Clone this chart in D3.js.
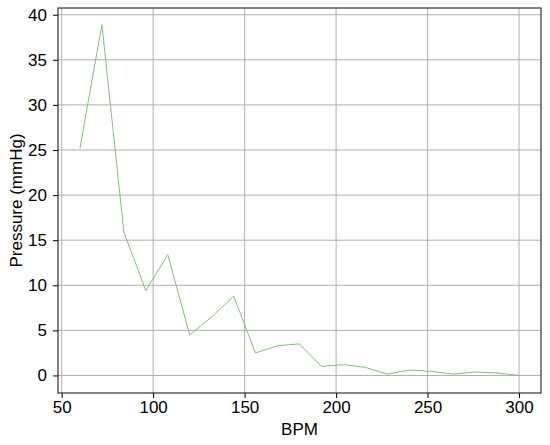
<!DOCTYPE html>
<html>
<head>
<meta charset="utf-8">
<script src="https://cdn.jsdelivr.net/npm/d3@7"></script>
<style>
  body { margin: 0; background: #fff; }
  svg text { font-family: "Liberation Sans", Arial, sans-serif; fill: #000; }
  .grid line { stroke: #b0b0b0; stroke-width: 1; }
  .axis path { display: none; }
  .axis line { stroke: #000; }
</style>
</head>
<body>
<svg width="550" height="445"></svg>
<script>
// BPM values along x
const bpm = [60, 72, 84, 96, 108, 120, 132, 144, 156, 168, 180, 192, 204, 216, 228, 240, 252, 264, 276, 288, 300]
// pressure
const pressure = [25.2, 38.9, 15.9, 9.4, 13.4, 4.5, 6.5, 8.8, 2.5, 3.3, 3.5, 1.0, 1.2, 0.9, 0.15, 0.6, 0.45, 0.15, 0.38, 0.27, 0]
const xTicks = [50, 100, 150, 200, 250, 300]
const yTicks = [0, 5, 10, 15, 20, 25, 30, 35, 40]

const svg = d3.select('svg')
const margin = {top: 8, right: 9, bottom: 52, left: 58}
const width = 550 - margin.left - margin.right
const height = 445 - margin.top - margin.bottom

const group = svg.append('g')
  .attr('transform', 'translate(' + margin.left + ',' + margin.top + ')')

// matplotlib style 5% padding
const x = d3.scaleLinear().domain([48, 312]).range([0, width])
const y = d3.scaleLinear().domain([-1.945, 40.745]).range([height, 0])

// grid
group.append('g').attr('class', 'grid')
  .selectAll('line.gx').data(xTicks).enter().append('line')
  .attr('x1', d => x(d)).attr('x2', d => x(d))
  .attr('y1', 0).attr('y2', height)
group.append('g').attr('class', 'grid')
  .selectAll('line.gy').data(yTicks).enter().append('line')
  .attr('x1', 0).attr('x2', width)
  .attr('y1', d => y(d)).attr('y2', d => y(d))

// line
const line = d3.line()
  .x((d, i) => x(bpm[i]))
  .y(d => y(d))
group.append('path')
  .datum(pressure)
  .attr('fill', 'none')
  .attr('stroke', '#7fbf7f')
  .attr('stroke-width', 1)
  .attr('d', line)

// frame
group.append('rect')
  .attr('x', 0).attr('y', 0)
  .attr('width', width).attr('height', height)
  .attr('fill', 'none')
  .attr('stroke', '#333')
  .attr('stroke-width', 1.2)

// axes
const xAxis = group.append('g')
  .attr('class', 'axis')
  .attr('transform', 'translate(0,' + height + ')')
  .call(d3.axisBottom(x).tickValues(xTicks).tickSize(5).tickPadding(3))
xAxis.selectAll('text').style('font-size', '17px')

const yAxis = group.append('g')
  .attr('class', 'axis')
  .call(d3.axisLeft(y).tickValues(yTicks).tickSize(5).tickPadding(6))
yAxis.selectAll('text').style('font-size', '17px')

// axis labels
svg.append('text')
  .attr('x', margin.left + width / 2)
  .attr('y', 435)
  .attr('text-anchor', 'middle')
  .style('font-size', '17px')
  .text('BPM')

svg.append('text')
  .attr('transform', 'translate(22,' + (margin.top + height / 2) + ') rotate(-90)')
  .attr('text-anchor', 'middle')
  .style('font-size', '17px')
  .text('Pressure (mmHg)')
</script>
</body>
</html>
